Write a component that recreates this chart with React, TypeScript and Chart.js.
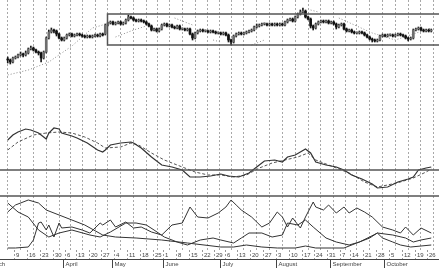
import React, { useEffect, useRef } from "react";
import { Chart, registerables } from "chart.js";

Chart.register(...registerables);

const W = 439;
const H = 268;

// Daily OHLC, one per trading day (Mar 4 .. Oct 27)
const opens = [
  71, 70, 68, 72, 73, 75, 76, 75, 77, 81,
  82, 80, 78, 77, 72, 78, 92, 98, 100, 99,
  96, 92, 90, 92, 95, 96, 94, 95, 96, 95,
  94, 93, 94, 93, 94, 95, 94, 96, 96, 105,
  107, 108, 106, 107, 108, 106, 107, 110, 113, 112,
  110, 109, 110, 109, 108, 106, 104, 100, 101, 99,
  101, 105, 106, 104, 105, 103, 102, 104, 101, 101,
  100, 101, 96, 92, 97, 99, 100, 99, 99, 98,
  99, 98, 97, 97, 96, 97, 95, 90, 88, 94,
  96, 97, 96, 97, 98, 99, 100, 103, 104, 105,
  106, 106, 105, 106, 105, 106, 105, 106, 105, 108,
  110, 111, 109, 113, 116, 118, 119, 113, 111, 104,
  102, 106, 108, 109, 108, 109, 107, 108, 106, 103,
  105, 106, 101, 99, 100, 98, 97, 97, 98, 97,
  95, 93, 91, 90, 89, 90, 94, 95, 94, 95,
  95, 94, 95, 96, 95, 94, 92, 91, 92, 100,
  101, 102, 100, 99, 100, 99,
];
const closes = [
  70, 68, 72, 73, 75, 76, 75, 77, 81, 82,
  80, 78, 77, 72, 78, 92, 98, 100, 99, 96,
  92, 90, 92, 95, 96, 94, 95, 96, 95, 94,
  93, 94, 93, 94, 95, 94, 96, 95, 105, 107,
  108, 106, 107, 108, 106, 107, 110, 113, 112, 110,
  109, 110, 109, 108, 106, 104, 100, 101, 99, 101,
  105, 106, 104, 105, 103, 102, 104, 101, 101, 100,
  101, 96, 92, 97, 99, 100, 99, 99, 98, 99,
  98, 97, 97, 96, 97, 95, 90, 88, 94, 96,
  97, 96, 97, 98, 99, 100, 103, 104, 105, 106,
  106, 105, 106, 105, 106, 105, 106, 105, 108, 110,
  111, 109, 113, 116, 118, 119, 113, 111, 104, 102,
  106, 108, 109, 108, 109, 107, 108, 106, 103, 105,
  106, 101, 99, 100, 98, 97, 97, 98, 97, 95,
  93, 91, 90, 89, 90, 94, 95, 94, 95, 95,
  94, 95, 96, 95, 94, 92, 91, 92, 100, 101,
  102, 100, 99, 100, 99, 100,
];
const highs = [
  73, 71, 73, 74, 76, 78, 77, 79, 82, 84,
  83, 81, 79, 78, 79, 93, 100, 102, 101, 100,
  97, 93, 93, 96, 97, 97, 96, 97, 97, 96,
  95, 95, 95, 95, 96, 96, 97, 97, 106, 108,
  109, 109, 108, 109, 109, 108, 111, 115, 114, 113,
  111, 111, 111, 110, 109, 107, 105, 102, 102, 102,
  106, 107, 107, 106, 106, 104, 105, 105, 102, 102,
  102, 102, 97, 98, 100, 101, 101, 100, 100, 100,
  100, 99, 98, 98, 98, 98, 96, 91, 95, 97,
  98, 98, 98, 99, 100, 101, 104, 106, 106, 107,
  107, 107, 107, 107, 107, 107, 107, 107, 109, 111,
  112, 112, 114, 117, 120, 122, 120, 114, 112, 105,
  107, 109, 110, 110, 110, 110, 109, 109, 107, 106,
  107, 107, 102, 101, 101, 99, 98, 99, 99, 98,
  96, 94, 92, 91, 91, 95, 96, 96, 96, 96,
  96, 96, 97, 97, 96, 95, 93, 93, 101, 102,
  103, 103, 101, 101, 101, 101,
];
const lows = [
  67, 66, 67, 71, 72, 74, 73, 74, 76, 80,
  79, 77, 75, 68, 71, 77, 91, 97, 97, 94,
  91, 89, 89, 91, 94, 93, 93, 94, 94, 93,
  92, 92, 92, 92, 93, 93, 93, 94, 95, 104,
  106, 105, 105, 106, 105, 105, 106, 109, 111, 109,
  108, 108, 108, 107, 105, 103, 99, 99, 98, 98,
  100, 104, 103, 103, 102, 101, 101, 100, 100, 99,
  99, 95, 90, 91, 96, 98, 98, 98, 97, 97,
  97, 96, 96, 95, 95, 94, 88, 85, 87, 93,
  95, 95, 95, 96, 97, 98, 99, 102, 103, 104,
  105, 104, 104, 104, 104, 104, 104, 104, 104, 107,
  109, 108, 108, 112, 115, 117, 112, 110, 102, 100,
  101, 105, 107, 107, 107, 106, 106, 105, 101, 102,
  104, 100, 98, 98, 97, 96, 96, 96, 96, 94,
  92, 90, 88, 88, 88, 89, 93, 93, 93, 94,
  93, 93, 94, 94, 93, 91, 89, 90, 91, 99,
  100, 99, 98, 98, 98, 98,
];

// dotted overlay line on the price pane (null = break)
const dotIdx = [0, 8, 16, 25, 33, 37, 38, 42, 49, 54, 55, 65, 72, 73, 80, 83, 84, 95, 100, 101, 118, 121, 122, 129, 142, 151, 165];
const dotVal = [55, 60, 68, 84, 102, 105, null, 93, 100, 104, null, 112, 105, null, 90, 88, null, 85, 90, null, 120, 118, null, 112, 97, 90, 102];

// trading-range box
const boxStartIdx = 38.5;
const boxTop = 116;
const boxBottom = 85;

// MACD pane
const macdIdx = [0, 2, 4, 7, 9, 12, 14, 15, 16, 18, 20, 21, 25, 27, 31, 35, 37, 38, 40, 44, 48, 49, 52, 56, 60, 64, 68, 71, 75, 79, 83, 86, 90, 94, 98, 100, 104, 107, 109, 112, 114, 116, 118, 120, 124, 128, 131, 134, 138, 142, 144, 148, 152, 156, 158, 160, 163, 165];
const macdVal = [3.0, 3.5, 3.8, 4.1, 4.0, 3.7, 3.3, 3.1, 3.7, 4.2, 4.1, 3.7, 3.4, 3.2, 2.7, 2.0, 1.8, 2.0, 2.5, 2.7, 2.8, 2.7, 2.2, 1.3, 0.5, 0.3, 0.0, -0.7, -0.7, -0.6, -0.4, -0.6, -0.7, -0.3, 0.5, 0.9, 1.0, 0.8, 1.3, 1.5, 1.8, 2.1, 1.7, 0.8, 0.5, 0.3, 0.0, -0.5, -0.9, -1.4, -1.8, -1.7, -1.2, -0.9, -0.7, 0.0, 0.2, 0.3];
const signalIdx = [0, 4, 10, 15, 20, 25, 30, 35, 38, 44, 48, 51, 56, 61, 68, 73, 78, 83, 88, 93, 98, 103, 108, 113, 117, 120, 127, 133, 139, 144, 148, 153, 158, 163, 165];
const signalVal = [2.0, 2.8, 3.5, 3.7, 3.8, 3.7, 3.3, 2.7, 2.2, 2.3, 2.7, 2.5, 1.7, 1.0, 0.3, -0.2, -0.5, -0.5, -0.7, -0.5, 0.2, 0.7, 1.0, 1.3, 1.7, 1.0, 0.3, -0.3, -1.2, -1.7, -1.5, -1.2, -0.8, -0.2, 0.1];

// DMI pane
const diPlusIdx = [0, 3, 8, 10, 12, 13, 15, 16, 18, 20, 21, 25, 29, 32, 36, 37, 40, 42, 46, 49, 52, 56, 60, 64, 68, 71, 74, 78, 82, 85, 87, 89, 91, 95, 99, 102, 105, 107, 109, 111, 114, 116, 119, 120, 123, 125, 128, 131, 133, 136, 139, 142, 146, 150, 153, 155, 158, 161, 165];
const diPlusVal = [1, 1, 2, 9, 26, 27, 19, 24, 12, 26, 21, 22, 19, 16, 26, 24, 29, 22, 27, 21, 22, 17, 14, 24, 26, 42, 32, 31, 36, 42, 49, 44, 39, 32, 22, 26, 37, 32, 22, 31, 21, 32, 47, 42, 39, 44, 36, 42, 36, 41, 37, 32, 22, 19, 16, 22, 14, 21, 16];
const diMinusIdx = [0, 4, 8, 12, 16, 20, 25, 32, 36, 40, 46, 50, 54, 57, 61, 66, 70, 75, 80, 83, 88, 91, 94, 99, 103, 107, 109, 113, 116, 119, 124, 128, 133, 137, 141, 144, 146, 150, 153, 157, 161, 165];
const diMinusVal = [46, 37, 32, 19, 12, 16, 19, 14, 12, 17, 26, 26, 24, 19, 12, 7, 4, 9, 11, 9, 6, 11, 16, 16, 12, 14, 26, 24, 29, 22, 11, 7, 4, 7, 12, 16, 11, 7, 4, 2, 3, 4];
const adxIdx = [0, 3, 8, 12, 15, 20, 25, 30, 37, 42, 50, 60, 70, 83, 88, 93, 99, 105, 112, 116, 120, 126, 131, 136, 141, 144, 150, 155, 158, 161, 165];
const adxVal = [37, 44, 49, 46, 39, 34, 29, 24, 14, 12, 11, 9, 6, 2, 2, 4, 2, 1, 1, 3, 1, 1, 1, 6, 11, 16, 14, 11, 7, 9, 11];

// weekly axis labels (first trading day of each week)
const weekStartIdx = [3, 8, 13, 18, 23, 27, 32, 37, 42, 47, 52, 57, 61, 66, 71, 76, 81, 85, 90, 95, 100, 105, 110, 115, 120, 125, 130, 134, 139, 144, 149, 154, 159, 164];
const weekLabels = ["9", "16", "23", "30", "6", "13", "20", "27", "4", "11", "18", "25", "1", "8", "15", "22", "29", "6", "13", "20", "27", "3", "10", "17", "24", "31", "7", "14", "21", "28", "5", "12", "19", "26"];
const monthStartIdx = [-8, 22, 41, 61, 83, 105, 126, 147];
const monthLabels = ["March", "April", "May", "June", "July", "August", "September", "October"];

const pts = (idx: number[], val: (number | null)[]) => idx.map((x, i) => ({ x, y: val[i] }));

const FONT = '6px "Liberation Sans", Arial, sans-serif';

const overlay = {
  id: "overlay",
  afterDatasetsDraw(chart: any) {
    const { ctx, chartArea, scales } = chart;
    const x = scales.x;
    const yp = scales.yPrice;
    const ym = scales.yMacd;
    const yd = scales.yDmi;
    const L = chartArea.left;
    const R = chartArea.right;
    ctx.save();

    // trading range box
    ctx.strokeStyle = "#555";
    ctx.lineWidth = 1.5;
    const bx = Math.round(x.getPixelForValue(boxStartIdx));
    const bt = Math.round(yp.getPixelForValue(boxTop));
    const bb = Math.round(yp.getPixelForValue(boxBottom));
    ctx.strokeRect(bx + 0.5, bt, R + 10 - bx, bb - bt);

    // MACD zero line
    const z = Math.round(ym.getPixelForValue(0));
    ctx.beginPath();
    ctx.moveTo(L, z);
    ctx.lineTo(R, z);
    ctx.stroke();

    // DMI pane top border
    const dt = Math.round(yd.top);
    ctx.beginPath();
    ctx.moveTo(L, dt);
    ctx.lineTo(R, dt);
    ctx.stroke();

    // bottom date axis
    const base = chartArea.bottom;
    const sep = base + 9;
    ctx.lineWidth = 1;
    ctx.strokeStyle = "#999";
    ctx.setLineDash([2, 2]);
    weekStartIdx.forEach((v) => {
      const px = Math.round(x.getPixelForValue(v - 0.5)) + 0.5;
      ctx.beginPath();
      ctx.moveTo(px, base);
      ctx.lineTo(px, sep);
      ctx.stroke();
    });
    ctx.setLineDash([]);
    ctx.strokeStyle = "#444";
    ctx.beginPath();
    ctx.moveTo(L, sep + 0.5);
    ctx.lineTo(R, sep + 0.5);
    ctx.stroke();

    ctx.fillStyle = "#444";
    ctx.font = FONT;
    ctx.textAlign = "left";
    ctx.textBaseline = "middle";
    weekStartIdx.forEach((v, i) => {
      const px = Math.round(x.getPixelForValue(v - 0.5));
      ctx.fillText(weekLabels[i], px + 2, base + 5);
    });
    monthStartIdx.forEach((v, i) => {
      const px = Math.round(x.getPixelForValue(v - 0.5)) + 0.5;
      ctx.beginPath();
      ctx.moveTo(px, sep);
      ctx.lineTo(px, H);
      ctx.stroke();
      ctx.fillText(monthLabels[i], px + 2, sep + 5);
    });
    ctx.restore();
  },
};

const hiddenY = (weight: number, min: number, max: number) => ({
  type: "linear" as const,
  position: "left" as const,
  stack: "panes",
  stackWeight: weight,
  min,
  max,
  display: true,
  ticks: { display: false },
  grid: { display: false, drawTicks: false },
  border: { display: false },
});

export default function App() {
  const ref = useRef<HTMLCanvasElement>(null);

  useEffect(() => {
    const canvas = ref.current;
    if (!canvas) return;
    const up = "#6e6e6e";
    const down = "#111";
    const chart = new Chart(canvas, {
      type: "bar",
      data: {
        datasets: [
          {
            type: "bar",
            label: "body",
            data: closes.map((c, i) => ({ x: i, y: [opens[i], c] })) as any,
            backgroundColor: (c: any) => (closes[c.dataIndex] >= opens[c.dataIndex] ? up : down),
            barThickness: 2,
            minBarLength: 1,
            grouped: false,
            borderWidth: 0,
            xAxisID: "x",
            yAxisID: "yPrice",
          },
          {
            type: "bar",
            label: "wick",
            data: closes.map((_, i) => ({ x: i, y: [lows[i], highs[i]] })) as any,
            backgroundColor: "#1a1a1a",
            barThickness: 1,
            grouped: false,
            borderWidth: 0,
            xAxisID: "x",
            yAxisID: "yPrice",
          },
          {
            type: "line",
            label: "band",
            data: pts(dotIdx, dotVal) as any,
            borderColor: "#8c8c8c",
            borderWidth: 1,
            borderDash: [1, 2],
            pointRadius: 0,
            spanGaps: false,
            xAxisID: "x",
            yAxisID: "yPrice",
          },
          {
            type: "line",
            label: "MACD",
            data: pts(macdIdx, macdVal) as any,
            borderColor: "#333",
            borderWidth: 1.2,
            pointRadius: 0,
            xAxisID: "x",
            yAxisID: "yMacd",
          },
          {
            type: "line",
            label: "Signal",
            data: pts(signalIdx, signalVal) as any,
            borderColor: "#555",
            borderWidth: 1,
            borderDash: [3, 2],
            pointRadius: 0,
            xAxisID: "x",
            yAxisID: "yMacd",
          },
          {
            type: "line",
            label: "+DI",
            data: pts(diPlusIdx, diPlusVal) as any,
            borderColor: "#333",
            borderWidth: 1,
            pointRadius: 0,
            xAxisID: "x",
            yAxisID: "yDmi",
          },
          {
            type: "line",
            label: "-DI",
            data: pts(diMinusIdx, diMinusVal) as any,
            borderColor: "#333",
            borderWidth: 1,
            pointRadius: 0,
            xAxisID: "x",
            yAxisID: "yDmi",
          },
          {
            type: "line",
            label: "ADX",
            data: pts(adxIdx, adxVal) as any,
            borderColor: "#333",
            borderWidth: 1,
            pointRadius: 0,
            xAxisID: "x",
            yAxisID: "yDmi",
          },
        ] as any,
      },
      options: {
        responsive: false,
        devicePixelRatio: 1,
        animation: false,
        events: [],
        layout: { padding: { top: 0, left: 0, right: 0, bottom: 18 } },
        plugins: { legend: { display: false }, tooltip: { enabled: false } },
        scales: {
          x: {
            type: "linear",
            min: -0.5,
            max: 165.5,
            position: "bottom",
            afterBuildTicks: (axis: any) => {
              axis.ticks = weekStartIdx.map((v) => ({ value: v - 0.5 }));
            },
            ticks: { display: false },
            grid: { color: "#a8a8a8", lineWidth: 1, drawTicks: false },
            border: { display: false, dash: [2, 2] },
          },
          // stacked panes are laid out bottom-up in definition order
          yDmi: hiddenY(54, -1, 53),
          yMacd: hiddenY(86, -2.6, 6.0),
          yPrice: hiddenY(110, 20, 130),
        } as any,
      },
      plugins: [overlay],
    });
    return () => chart.destroy();
  }, []);

  return (
    <div style={{ position: "fixed", left: 0, top: 0, width: W, height: H, background: "#fff" }}>
      <canvas ref={ref} width={W} height={H} style={{ display: "block" }} />
    </div>
  );
}
